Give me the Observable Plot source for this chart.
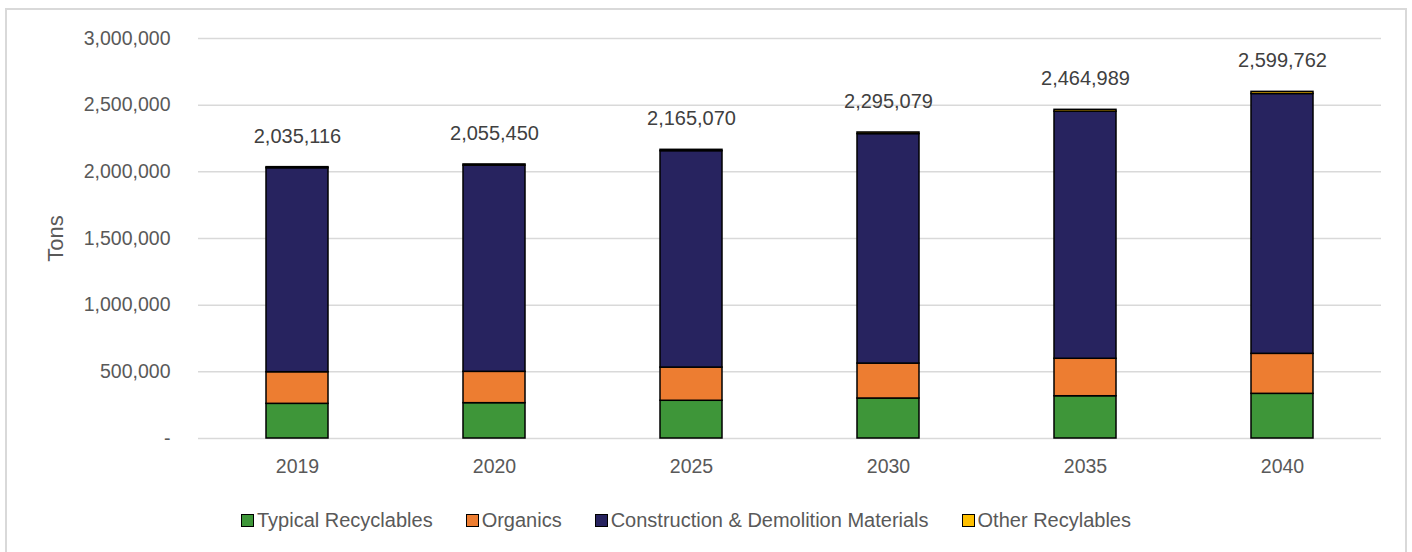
<!DOCTYPE html>
<html>
<head>
<meta charset="utf-8">
<script src="https://cdn.jsdelivr.net/npm/d3@7"></script>
<script src="https://cdn.jsdelivr.net/npm/@observablehq/plot@0.6"></script>
<style>
  html, body { margin: 0; padding: 0; background: #fff; }
  body { width: 1412px; height: 552px; position: relative; overflow: hidden; font-family: "Liberation Sans", Arial, sans-serif; }
  #frame { position: absolute; left: 5px; top: 8px; width: 1402px; height: 560px; border: 2px solid #d9d9d9; box-sizing: border-box; }
  #chart { position: absolute; left: 0; top: 0; }
  #legend { position: absolute; left: 241px; top: 509px; display: flex; align-items: center; font-size: 20px; color: #595959; }
  .item { display: flex; align-items: center; margin-right: 33px; }
  .sw { width: 11px; height: 11px; border: 1.5px solid #000; margin-right: 3px; }
</style>
</head>
<body>
<div id="frame"></div>
<div id="chart"></div>
<div id="legend"></div>
<script>
const years = ["2019", "2020", "2025", "2030", "2035", "2040"];
const categories = ["Typical Recyclables", "Organics", "Construction & Demolition Materials", "Other Recylables"];
const colors = ["#3e9639", "#ed7d31", "#27235f", "#ffc000"];
const typical = [260000, 265000, 283000, 300000, 317000, 335000];
const organics = [237000, 235000, 249000, 262000, 281000, 300000];
const construction = [1530116, 1546450, 1623070, 1721079, 1852989, 1948762];
const other = [8000, 9000, 10000, 12000, 14000, 16000];
const totals = [2035116, 2055450, 2165070, 2295079, 2464989, 2599762];
const yTicks = [0, 500000, 1000000, 1500000, 2000000, 2500000, 3000000];

const series = [typical, organics, construction, other];
const rows = [];
years.forEach((yr, i) => {
  categories.forEach((c, k) => rows.push({year: yr, category: c, value: series[k][i]}));
});
const totalRows = years.map((yr, i) => ({year: yr, total: totals[i]}));

const fmt = d3.format(",");
const chart = Plot.plot({
  width: 1412,
  height: 490,
  marginLeft: 198,
  marginRight: 31,
  marginTop: 38,
  marginBottom: 52,
  style: {fontFamily: "'Liberation Sans', Arial, sans-serif", background: "transparent"},
  x: {domain: years, paddingInner: 0.685, paddingOuter: 0.3425, label: null},
  y: {domain: [0, 3000000], label: null},
  color: {domain: categories, range: colors},
  marks: [
    Plot.ruleY(yTicks, {stroke: "#d9d9d9", strokeWidth: 1.5}),
    Plot.axisY({ticks: yTicks, tickSize: 0, tickPadding: 28, tickFormat: d => d === 0 ? "-" : fmt(d), fontSize: 19.5, fill: "#595959", label: null}),
    Plot.axisX({tickSize: 0, tickPadding: 21, fontSize: 19.5, fill: "#595959", label: null}),
    Plot.text(["Tons"], {frameAnchor: "left", dx: -143, rotate: -90, textAnchor: "middle", fontSize: 22, fill: "#595959"}),
    Plot.barY(rows, Plot.stackY({x: "year", y: "value", fill: "category", order: categories, stroke: "#000", strokeWidth: 1.5})),
    Plot.text(totalRows, {x: "year", y: "total", text: d => fmt(d.total), dy: -31, fontSize: 20, fill: "#404040"})
  ]
});
document.getElementById("chart").appendChild(chart);

const legend = document.getElementById("legend");
categories.forEach((c, k) => {
  const it = document.createElement("div");
  it.className = "item";
  const sw = document.createElement("div");
  sw.className = "sw";
  sw.style.background = colors[k];
  const t = document.createElement("span");
  t.textContent = c;
  it.appendChild(sw); it.appendChild(t);
  legend.appendChild(it);
});
</script>
</body>
</html>
